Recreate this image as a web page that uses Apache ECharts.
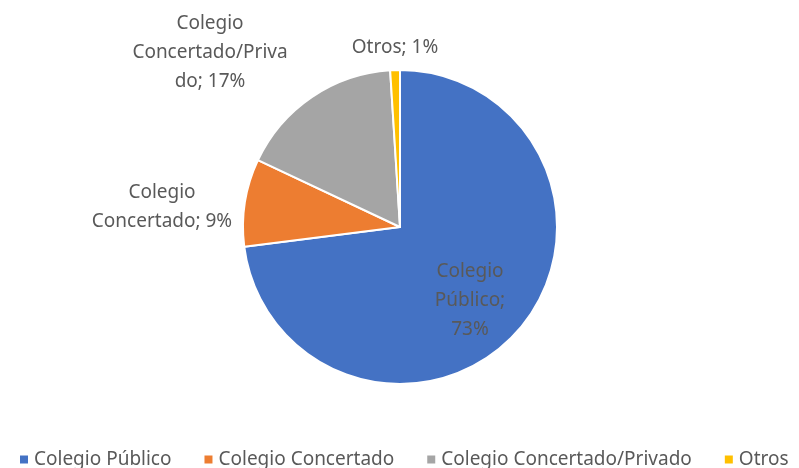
<!DOCTYPE html>
<html>
<head>
<meta charset="utf-8">
<script src="https://cdn.jsdelivr.net/npm/echarts@6/dist/echarts.min.js"></script>
<style>
  html, body { margin: 0; padding: 0; background: #fff; }
  #chart { width: 799px; height: 468px; }
</style>
</head>
<body>
<div id="chart"></div>
<script>
const categories = ['Colegio Público', 'Colegio Concertado', 'Colegio Concertado/Privado', 'Otros'];
const values = [73, 9, 17, 1];
const labelTexts = ['Colegio\nPúblico;\n73%', 'Colegio\nConcertado; 9%', 'Colegio\nConcertado/Priva\ndo; 17%', 'Otros; 1%'];
const colors = ['#4472C4', '#ED7D31', '#A5A5A5', '#FFC000'];

const FONT = 'Noto Sans';
const chart = echarts.init(document.getElementById('chart'));

const data = categories.map((name, i) => ({
  name: name,
  value: values[i],
  label: {
    position: i === 0 ? 'inside' : 'outside',
    formatter: labelTexts[i]
  }
}));

// where the original places each data label (label centre, px)
const labelSpots = [[470, 301], [162, 207], [210, 53], [395, 48]];

const options = {
  color: colors,
  textStyle: { fontFamily: FONT },
  legend: {
    top: 445,
    left: 13,
    itemWidth: 10,
    itemHeight: 10,
    itemGap: 31,
    icon: 'rect',
    textStyle: { fontSize: 19, color: '#595959', fontFamily: FONT },
    data: categories
  },
  series: [
    {
      type: 'pie',
      center: [400, 227],
      radius: 157,
      startAngle: 90,
      clockwise: true,
      animation: false,
      avoidLabelOverlap: false,
      itemStyle: { borderColor: '#fff', borderWidth: 2 },
      label: {
        show: true,
        color: '#595959',
        fontSize: 19,
        lineHeight: 29,
        align: 'center',
        fontFamily: FONT
      },
      labelLine: { show: false, length: 10, length2: 0 },
      labelLayout: function (params) {
        const p = labelSpots[params.dataIndex];
        return { x: p[0], y: p[1], align: 'center', verticalAlign: 'middle' };
      },
      emphasis: { disabled: true },
      data: data
    }
  ]
};
chart.setOption(options);
</script>
</body>
</html>
